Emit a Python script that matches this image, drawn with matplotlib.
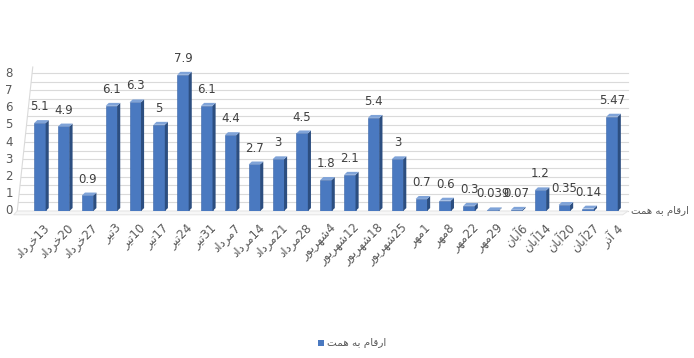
import matplotlib
matplotlib.use("Agg")
import matplotlib.pyplot as plt
from matplotlib.patches import Polygon
import numpy as np

plt.rcParams['font.family'] = ['DejaVu Sans', 'Noto Sans']

# ---------------- data ----------------
day_numbers = ["13", "20", "27", "3", "10", "17", "24", "31", "7", "14", "21", "28",
               "4", "12", "18", "25", "1", "8", "22", "29", "6", "14", "20", "27", "4"]
month_names = ["خرداد", "خرداد", "خرداد", "تیر", "تیر", "تیر", "تیر", "تیر",
               "مرداد", "مرداد", "مرداد", "مرداد", "شهریور", "شهریور", "شهریور", "شهریور",
               "مهر", "مهر", "مهر", "مهر", "آبان", "آبان", "آبان", "آبان", "آذر"]
separators = [""] * 24 + [" "]
values = [5.1, 4.9, 0.9, 6.1, 6.3, 5, 7.9, 6.1, 4.4, 2.7, 3, 4.5,
          1.8, 2.1, 5.4, 3, 0.7, 0.6, 0.3, 0.039, 0.07, 1.2, 0.35, 0.14, 5.47]
value_labels = ["5.1", "4.9", "0.9", "6.1", "6.3", "5", "7.9", "6.1", "4.4", "2.7", "3", "4.5",
                "1.8", "2.1", "5.4", "3", "0.7", "0.6", "0.3", "0.039", "0.07", "1.2", "0.35", "0.14", "5.47"]
series_name = "ارقام به همت"
y_ticks = [0, 1, 2, 3, 4, 5, 6, 7, 8]

# ---------------- minimal Arabic/Persian shaping ----------------
# char: (isolated, final, initial, medial); None for right-joining letters
FORMS = {
    'ا': ('\uFE8D', '\uFE8E', None, None),
    'آ': ('\uFE81', '\uFE82', None, None),
    'ب': ('\uFE8F', '\uFE90', '\uFE91', '\uFE92'),
    'ت': ('\uFE95', '\uFE96', '\uFE97', '\uFE98'),
    'خ': ('\uFEA5', '\uFEA6', '\uFEA7', '\uFEA8'),
    'د': ('\uFEA9', '\uFEAA', None, None),
    'ذ': ('\uFEAB', '\uFEAC', None, None),
    'ر': ('\uFEAD', '\uFEAE', None, None),
    'ش': ('\uFEB5', '\uFEB6', '\uFEB7', '\uFEB8'),
    'ق': ('\uFED5', '\uFED6', '\uFED7', '\uFED8'),
    'ل': ('\uFEDD', '\uFEDE', '\uFEDF', '\uFEE0'),
    'م': ('\uFEE1', '\uFEE2', '\uFEE3', '\uFEE4'),
    'ن': ('\uFEE5', '\uFEE6', '\uFEE7', '\uFEE8'),
    'ه': ('\uFEE9', '\uFEEA', '\uFEEB', '\uFEEC'),
    'و': ('\uFEED', '\uFEEE', None, None),
    'ی': ('\uFBFC', '\uFBFD', '\uFBFE', '\uFBFF'),
}


def shape_word(word):
    out = []
    n = len(word)
    for i, c in enumerate(word):
        if c not in FORMS:
            out.append(c)
            continue
        prev = word[i - 1] if i > 0 else None
        nxt = word[i + 1] if i + 1 < n else None
        jp = prev in FORMS and FORMS[prev][2] is not None
        jn = nxt in FORMS and FORMS[c][2] is not None
        iso, fin, ini, med = FORMS[c]
        if jp and jn:
            out.append(med)
        elif jp:
            out.append(fin)
        elif jn:
            out.append(ini)
        else:
            out.append(iso)
    return ''.join(reversed(out))


def rtl(text):
    words = text.split(' ')
    return ' '.join(shape_word(w) for w in reversed(words))


x_labels = [rtl(m) + s + d for m, s, d in zip(month_names, separators, day_numbers)]

# ---------------- figure ----------------
W, H = 694, 358
fig = plt.figure(figsize=(W / 100, H / 100), dpi=100)
ax = fig.add_axes([28 / W, (H - 211) / H, 600 / W, 144 / H])
ax.set_xlim(-0.5, 24.67)
ax.set_ylim(0, 8.35)
ax.axis('off')

x = np.arange(len(values))
grid_col = '#DADADA'

# back wall gridlines with slanted left edge (perspective)
left_bottom, left_top = -0.95, -0.3
for gv in np.arange(0, 8.5, 0.5):
    xs = left_bottom + (left_top - left_bottom) * gv / 8.35
    ax.plot([xs, 24.67], [gv, gv], color=grid_col, lw=0.8, zorder=1, clip_on=False)
ax.plot([left_bottom, left_top], [0, 8.35], color=grid_col, lw=0.8, zorder=1, clip_on=False)
# floor
floor = Polygon([[-0.95, 0], [24.67, 0], [24.45, -0.22], [-1.1, -0.22]],
                closed=True, facecolor='#F7F7F7', edgecolor='#E4E4E4', lw=0.7,
                zorder=1, clip_on=False)
ax.add_patch(floor)

# bars with pseudo-3D faces
bw = 0.48
dx, dy = 0.13, 0.17
front_col = '#4A79C0'
side_col = '#2C4E80'
top_col = '#7FA3D8'
ax.bar(x, values, width=bw, color=front_col, edgecolor='#3A65A8', lw=0.4, zorder=3)
for xi, v in zip(x, values):
    r = xi + bw / 2
    l = xi - bw / 2
    side = Polygon([[r, 0], [r + dx, dy], [r + dx, v + dy], [r, v]], closed=True,
                   facecolor=side_col, edgecolor='none', zorder=3)
    top = Polygon([[l, v], [r, v], [r + dx, v + dy], [l + dx, v + dy]], closed=True,
                  facecolor=top_col, edgecolor='none', zorder=3)
    ax.add_patch(side)
    ax.add_patch(top)

# value labels
for xi, v, lab in zip(x, values, value_labels):
    ax.annotate(lab, (xi, v + dy), xytext=(0, 5), textcoords='offset points',
                ha='center', va='bottom', fontsize=8.5, color='#404040', zorder=4)

# y tick labels
for t in y_ticks:
    ax.annotate(str(t), (-0.5, t), xytext=(-11, 0), textcoords='offset points',
                ha='right', va='center', fontsize=8.5, color='#595959',
                annotation_clip=False)

# x tick labels
for xi, lab in zip(x, x_labels):
    ax.annotate(lab, (xi + 0.15, -0.28), xytext=(0, -4), textcoords='offset points',
                ha='right', va='top', rotation=45, rotation_mode='anchor',
                fontsize=8.5, color='#595959', annotation_clip=False)

# depth axis (series) label on the right
ax.annotate(rtl(series_name), (24.67, 0), xytext=(2, 0), textcoords='offset points',
            ha='left', va='center', fontsize=7.3, color='#595959', annotation_clip=False)

# legend
fig.patches.append(Polygon([[318 / W, (H - 346) / H], [324 / W, (H - 346) / H],
                            [324 / W, (H - 340) / H], [318 / W, (H - 340) / H]],
                           closed=True, transform=fig.transFigure,
                           facecolor=front_col, edgecolor='none'))
fig.text(327 / W, (H - 343) / H, rtl(series_name), ha='left', va='center',
         fontsize=7.5, color='#595959')

fig.savefig('out.png', dpi=100, facecolor='white')
